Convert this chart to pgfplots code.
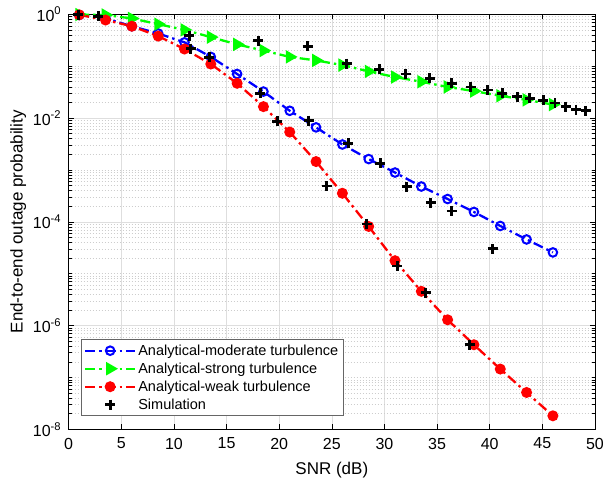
\documentclass[border=0pt]{standalone}
\usepackage{fontspec}
\setmainfont{Liberation Sans}
\usepackage{pgfplots}
\usepackage{pgfplotstable}
\pgfplotsset{compat=1.18}
\definecolor{gridgray}{RGB}{222,222,222}
\definecolor{mgridgray}{RGB}{205,205,205}
\definecolor{mblue}{RGB}{0,0,255}
\definecolor{mgreen}{RGB}{0,255,0}
\definecolor{mred}{RGB}{255,0,0}

\pgfplotstableread{
x y
1 0.97
3.5 0.832
6 0.589
8.5 0.427
11 0.288
13.5 0.151
16 0.0708
18.5 0.0324
21 0.0138
23.5 0.00661
26 0.00309
28.5 0.00162
31 8.91e-4
33.5 4.79e-4
36 2.75e-4
38.5 1.55e-4
41 8.32e-5
43.5 4.57e-5
46 2.57e-5
}\moderate

\pgfplotstableread{
x y
1 0.99
3.5 0.970
6 0.832
8.5 0.646
11 0.501
13.5 0.363
16 0.263
18.5 0.200
21 0.151
23.5 0.129
26 0.105
28.5 0.0794
31 0.0617
33.5 0.0501
36 0.0398
38.5 0.0331
41 0.0269
43.5 0.0224
46 0.0182
}\strong

\pgfplotstableread{
x y
1 0.977
3.5 0.776
6 0.589
8.5 0.380
11 0.214
13.5 0.110
16 0.0468
18.5 0.0166
21 0.00537
23.5 0.00145
26 3.55e-4
28.5 8.13e-5
31 1.78e-5
33.5 4.57e-6
36 1.29e-6
38.5 4.27e-7
41 1.45e-7
43.5 5.13e-8
46 1.82e-8
}\weak

\pgfplotstableread{
x y
0.9 0.977
2.8 0.912
11.45 0.389
11.6 0.219
13.35 0.148
18.0 0.309
18.2 0.0302
19.8 0.00871
22.7 0.240
22.8 0.00891
24.5 4.9e-4
26.4 0.112
26.55 0.00324
28.3 9.1e-5
29.5 0.0871
29.6 0.00135
31.2 1.41e-5
32.0 0.0708
32.1 4.79e-4
33.9 4.27e-6
34.3 0.0589
34.4 2.34e-4
36.4 0.0468
36.4 1.62e-4
38.1 4.27e-7
38.2 0.0398
39.8 0.0347
40.3 3.02e-5
41.2 0.0302
42.6 0.0257
43.8 0.0240
45.1 0.0219
46.2 0.0195
47.2 0.0166
48.2 0.0145
49.1 0.0138
}\sim

\begin{document}
\begin{tikzpicture}
\begin{axis}[
  at={(0,0)}, anchor=south west,
  scale only axis, width=526.3pt, height=415pt,
  xmin=0, xmax=50, ymode=log, ymin=1e-8, ymax=1,
  xtick={0,5,...,50},
  ytick={1e-8,1e-6,1e-4,1e-2,1},
  yticklabels={10\textsuperscript{-8},10\textsuperscript{-6},10\textsuperscript{-4},10\textsuperscript{-2},10\textsuperscript{0}},
  minor ytick={2e-8,3e-8,4e-8,5e-8,6e-8,7e-8,8e-8,9e-8,1e-7,2e-7,3e-7,4e-7,5e-7,6e-7,7e-7,8e-7,9e-7,
    2e-6,3e-6,4e-6,5e-6,6e-6,7e-6,8e-6,9e-6,1e-5,2e-5,3e-5,4e-5,5e-5,6e-5,7e-5,8e-5,9e-5,
    2e-4,3e-4,4e-4,5e-4,6e-4,7e-4,8e-4,9e-4,1e-3,2e-3,3e-3,4e-3,5e-3,6e-3,7e-3,8e-3,9e-3,
    2e-2,3e-2,4e-2,5e-2,6e-2,7e-2,8e-2,9e-2,1e-1,2e-1,3e-1,4e-1,5e-1,6e-1,7e-1,8e-1,9e-1},
  grid=both,
  major grid style={gridgray, line width=0.6pt},
  minor grid style={mgridgray, dash pattern=on 0.8pt off 2.2pt, line width=0.6pt},
  tick align=inside, xtick pos=both, ytick pos=both,
  major tick length=5pt, minor tick length=3pt,
  axis line style={black, line width=0.8pt},
  every tick/.style={black, line width=0.6pt},
  /pgf/number format/assume math mode=true,
  tick label style={font=\fontsize{16}{19}\selectfont},
  xticklabel style={yshift=-5pt},
  yticklabel style={xshift=-4pt},
  label style={font=\fontsize{17}{20}\selectfont},
  xlabel={SNR (dB)},
  xlabel style={yshift=-6pt},
  ylabel={End-to-end outage probability},
  clip=false,
  legend cell align=left,
  legend style={at={(0.0228,0.032)}, anchor=south west, draw=black!60, line width=0.6pt, fill=white,
    font=\fontsize{14.5}{17}\selectfont, row sep=2pt, inner sep=3pt},
  legend image code/.code={\draw[mark repeat=2,mark phase=2,#1] plot coordinates {(0pt,0pt) (25pt,0pt) (50pt,0pt)};},
]
\addplot[mblue, line width=2.3pt, dash pattern=on 10pt off 4pt on 2.5pt off 4pt,
  mark=o, mark size=4.3pt, mark options={solid, line width=2pt}] table[x=x,y=y] {\moderate};
\addlegendentry{Analytical-moderate turbulence}
\addplot[mgreen, line width=2.3pt, dash pattern=on 10pt off 4pt on 2.5pt off 4pt,
  mark=triangle*, mark size=5.5pt, mark options={solid, rotate=-90, fill=mgreen}] table[x=x,y=y] {\strong};
\addlegendentry{Analytical-strong turbulence}
\addplot[mred, line width=2.3pt, dash pattern=on 10pt off 4pt on 2.5pt off 4pt,
  mark=*, mark size=4.3pt, mark options={solid, fill=mred}] table[x=x,y=y] {\weak};
\addlegendentry{Analytical-weak turbulence}
\addplot[only marks, black, mark=+, mark size=5pt, mark options={line width=2.8pt}] table[x=x,y=y] {\sim};
\addlegendentry{Simulation}
\end{axis}
\pgfresetboundingbox
\path[use as bounding box] (-68.7pt,-52.7pt) rectangle (534.3pt,429.3pt);
\end{tikzpicture}
\end{document}
